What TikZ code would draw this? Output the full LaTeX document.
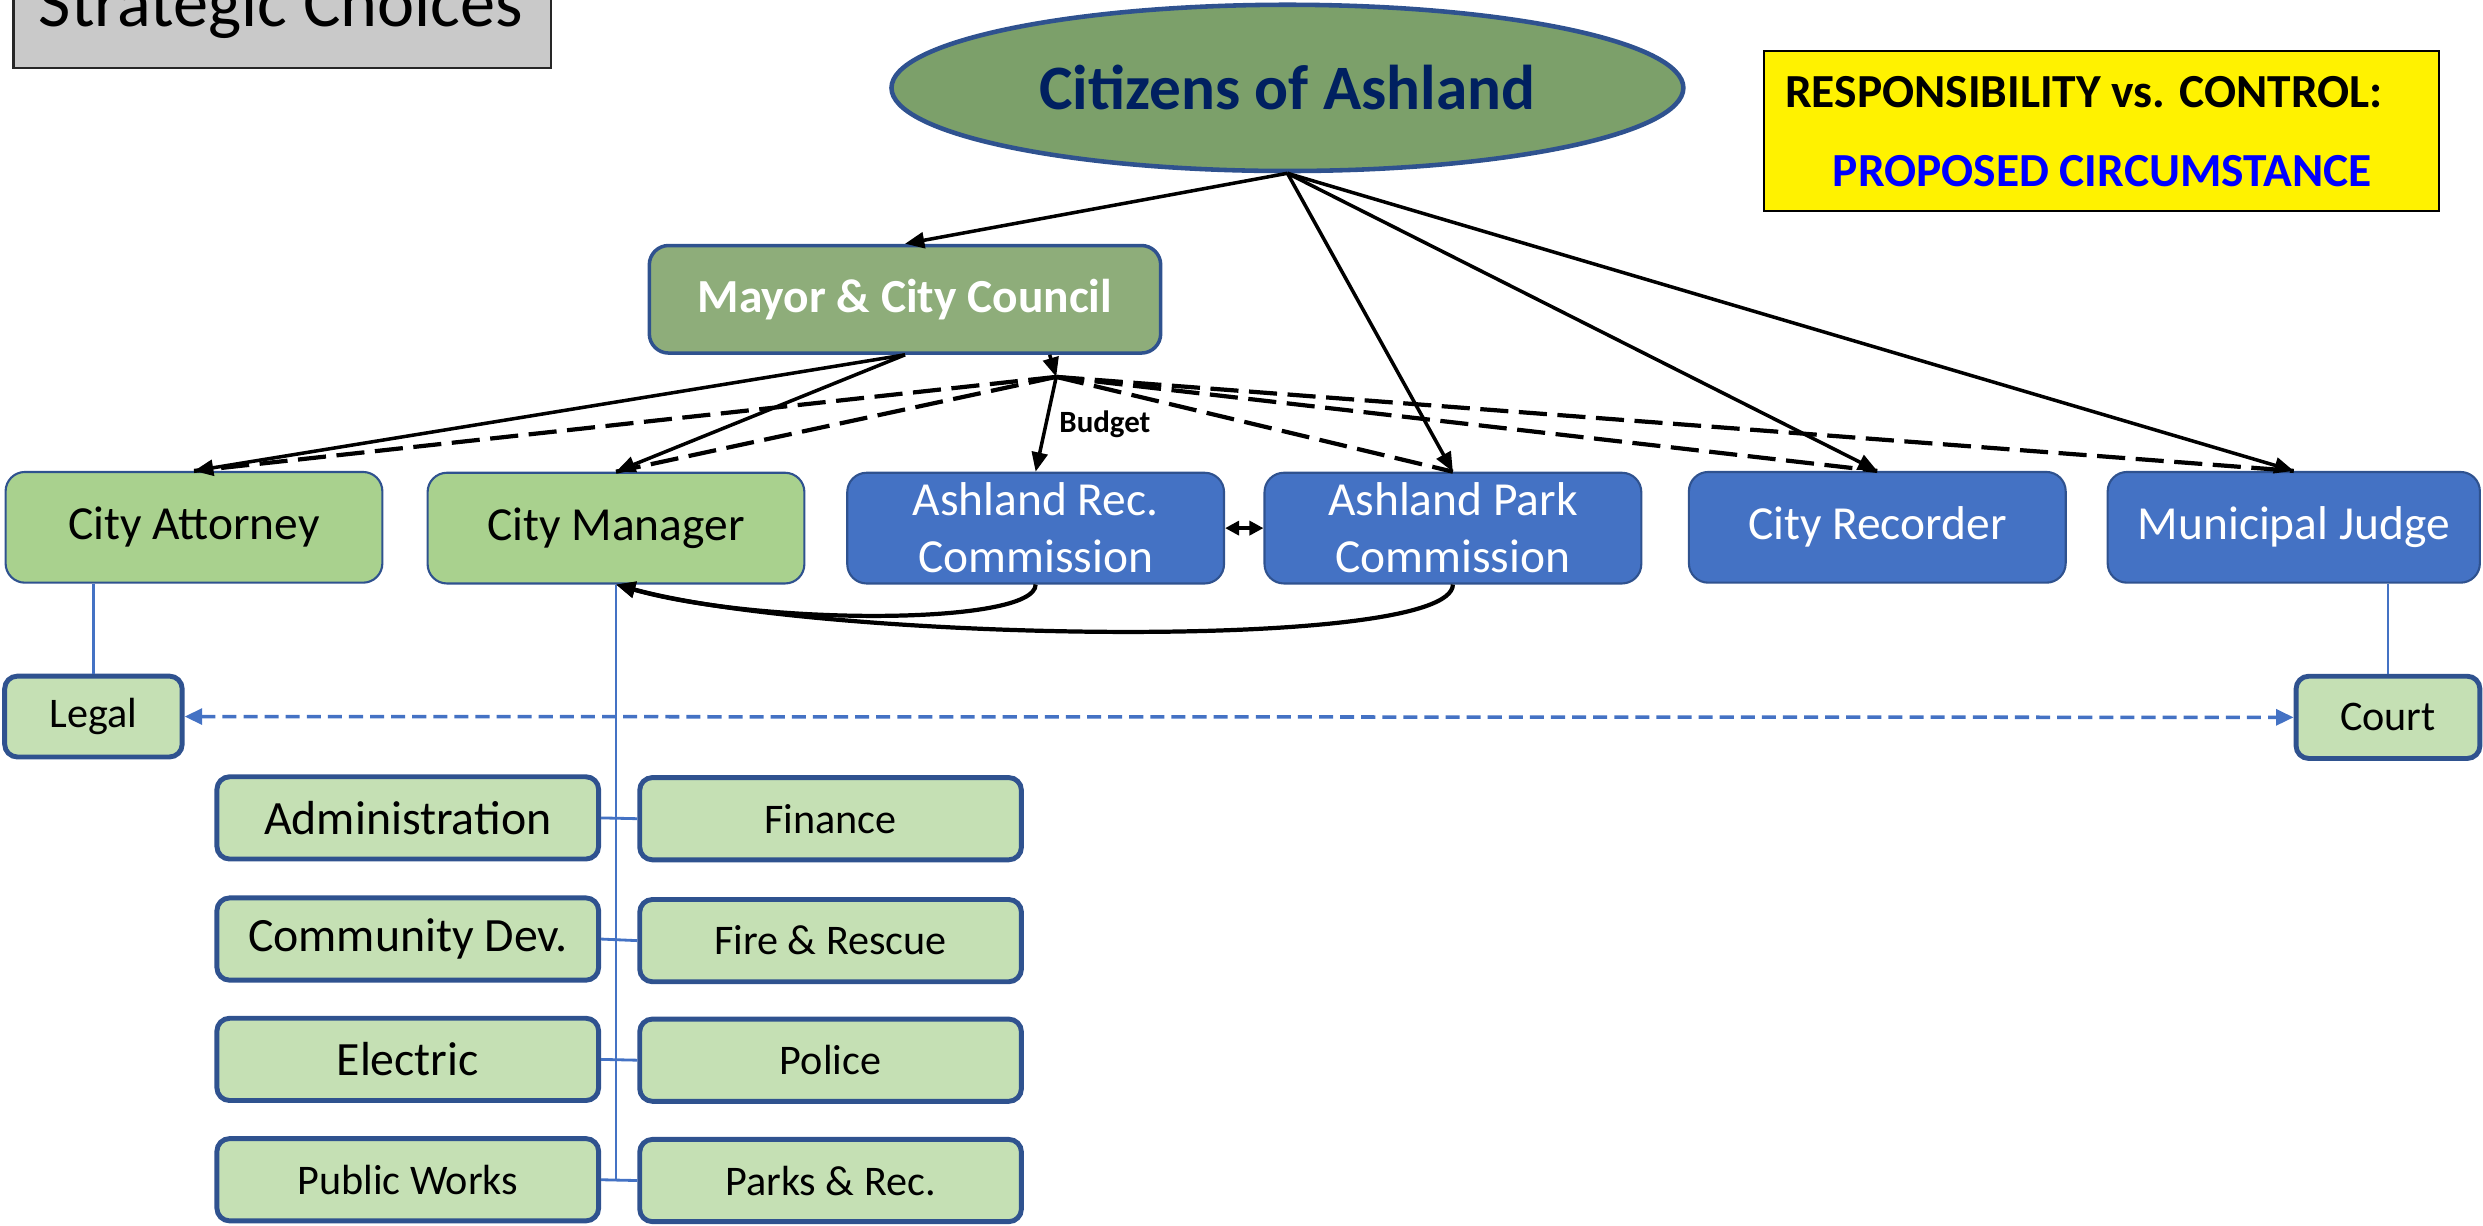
\documentclass[tikz,border=0pt]{standalone}
\usepackage{fontspec}
\setmainfont{Carlito}
\usetikzlibrary{shapes.geometric,arrows.meta}
\definecolor{citgreen}{HTML}{7CA06A}
\definecolor{mayorgreen}{HTML}{8EAD7A}
\definecolor{rowgreen}{HTML}{A9D18E}
\definecolor{subgreen}{HTML}{C5E0B4}
\definecolor{boxblue}{HTML}{4472C4}
\definecolor{bordc}{HTML}{2F528F}
\definecolor{navy}{HTML}{002060}
\definecolor{pblue}{HTML}{0000FF}
\definecolor{grayfill}{HTML}{C9C9C9}
\tikzset{
 box/.style={draw=bordc, rounded corners=5.5pt, minimum width=107.2pt, minimum height=31.5pt, inner sep=1pt, align=center, line width=0.6pt, font=\fontsize{13.5pt}{16.2pt}\selectfont},
 gbox/.style={box, fill=rowgreen, text=black},
 bbox/.style={box, fill=boxblue, text=white},
 sbox/.style={draw=bordc, fill=subgreen, rounded corners=3.6pt, line width=1.4pt, minimum width=108.6pt, minimum height=23.4pt, inner sep=1pt},
 lfont/.style={font=\fontsize{13.6pt}{16pt}\selectfont},
 rfont/.style={font=\fontsize{12pt}{14pt}\selectfont},
 arr/.style={-{Triangle[length=5.5pt,width=4.5pt]}, line width=1pt, draw=black},
 dsh/.style={dash pattern=on 8pt off 3pt, line width=1.2pt, draw=black},
 bline/.style={draw=boxblue, line width=0.8pt},
 ybold/.style={font=\bfseries\fontsize{13.5pt}{16pt}\selectfont, inner sep=0pt},
}
\begin{document}
\begin{tikzpicture}[x=0.45055pt,y=-0.45055pt]
\useasboundingbox (0,0) rectangle (1568,774);
\clip (0,0) rectangle (1568,774);

% title box
\draw[fill=grayfill, draw=black!85, line width=0.6pt] (8.5,-40) rectangle (348,43);
\node[anchor=base, inner sep=0pt, font=\fontsize{20pt}{24pt}\selectfont] (strat) at (177.5,17) {Strategic Choices};

% legend box
\node[draw=black, line width=0.6pt, fill=yellow, minimum width=191.9pt, minimum height=45.5pt, inner sep=0pt] (note) at (1327,82.5) {};
\node[ybold] (note1) at (1316,58) {RESPONSIBILITY vs. CONTROL:};
\node[ybold, text=pblue] (note2) at (1327.5,108) {PROPOSED CIRCUMSTANCE};

% top nodes
\node[ellipse, draw=bordc, line width=1.3pt, fill=citgreen, minimum width=225.3pt, minimum height=47.3pt, inner sep=0pt, text=navy, font=\bfseries\fontsize{18pt}{21pt}\selectfont] (cit) at (813,55.5) {Citizens of Ashland};
\node[draw=bordc, line width=1pt, fill=mayorgreen, rounded corners=5.5pt, minimum width=145.5pt, minimum height=30.6pt, text=white, font=\bfseries\fontsize{13.5pt}{16pt}\selectfont] (mayor) at (571.5,189) {Mayor \& City Council};

% row 2
\node[gbox] (att) at (122.5,333) {City Attorney};
\node[gbox] (mgr) at (389,333.5) {City Manager};
\node[bbox] (rec) at (654,333.5) {Ashland Rec.\\Commission};
\node[bbox] (park) at (917.5,333.5) {Ashland Park\\Commission};
\node[bbox] (recd) at (1185.5,333) {City Recorder};
\node[bbox, minimum width=105.9pt] (judge) at (1448.5,333) {Municipal Judge};

% legal / court
\node[sbox, minimum width=50.5pt, minimum height=23pt, rfont] (legal) at (59,452.5) {Legal};
\node[sbox, minimum width=52.3pt, rfont] (court) at (1508,453) {Court};

% departments
\node[sbox, lfont] (adm) at (257.5,516.5) {Administration};
\node[sbox, rfont] (fin) at (524.5,517) {Finance};
\node[sbox, lfont] (cdev) at (257.5,593) {Community Dev.};
\node[sbox, rfont] (fire) at (524.5,594) {Fire \& Rescue};
\node[sbox, lfont] (elec) at (257.5,669) {Electric};
\node[sbox, rfont] (pol) at (524.5,669.5) {Police};
\node[sbox, rfont] (pw) at (257.5,745) {Public Works};
\node[sbox, rfont] (parks) at (524.5,745.5) {Parks \& Rec.};

% citizens arrows
\draw[arr] (cit.south) -- (mayor.north);
\draw[arr] (cit.south) -- (park.north);
\draw[arr] (cit.south) -- (recd.north);
\draw[arr] (cit.south) -- (judge.north);

% mayor arrows
\draw[arr] (mayor.south) -- (att.north);
\draw[arr] (mayor.south) -- (mgr.north);
\coordinate (hub) at (667,238);
\draw[dsh] (hub) -- (att.north);
\draw[dsh] (hub) -- (mgr.north);
\draw[dsh] (hub) -- (park.north);
\draw[dsh] (hub) -- (recd.north);
\draw[dsh] (hub) -- (judge.north);
\draw[arr] (mayor.-21) -- (hub);
\draw[arr] (hub) -- node[right, font=\bfseries\fontsize{8.8pt}{10pt}\selectfont] (budget) {Budget} (rec.north);

% commissions
\draw[{Triangle[length=4pt,width=4pt]}-{Triangle[length=4pt,width=4pt]}, line width=1pt] (rec.east) -- (park.west);
\draw[arr, line width=1.2pt] (rec.south) .. controls (654,395) and (480,395) .. (mgr.south);
\draw[arr, line width=1.2pt] (park.south) .. controls (917,412) and (520,405) .. (mgr.south);

% blue lines
\draw[bline] (legal.north |- att.south) -- (legal.north);
\draw[bline] (court.north |- judge.south) -- (court.north);
\draw[bline] (mgr.south) -- (mgr.south |- pw.east);
\draw[bline] (adm.east) -- (fin.west);
\draw[bline] (cdev.east) -- (fire.west);
\draw[bline] (elec.east) -- (pol.west);
\draw[bline] (pw.east) -- (parks.west);
\draw[draw=boxblue, line width=1pt, dash pattern=on 4pt off 2pt, {Triangle[length=5pt,width=4.5pt]}-{Triangle[length=5pt,width=4.5pt]}] (legal.east) -- (court.west);
\end{tikzpicture}
\end{document}
